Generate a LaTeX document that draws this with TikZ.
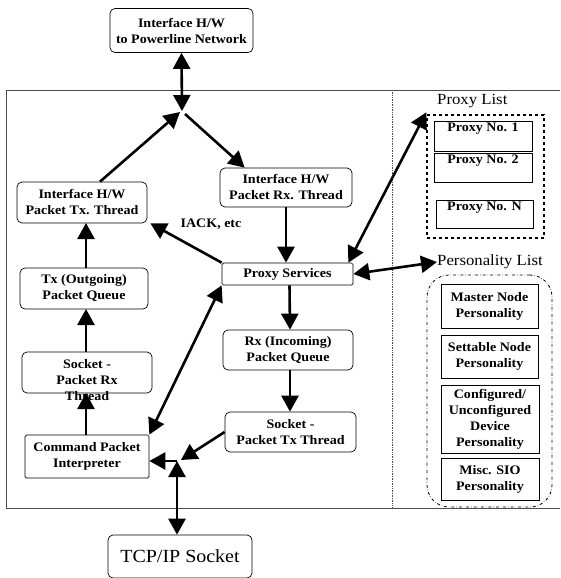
\documentclass[tikz,border=0pt]{standalone}
\usepackage{fontspec}
\setmainfont{Liberation Serif}[FakeStretch=1.08]
\usetikzlibrary{arrows.meta,calc}
\begin{document}
\begin{tikzpicture}[x=1pt,y=-1pt,
  boxtxt/.style={font=\bfseries\fontsize{13}{16}\selectfont, align=center},
  rbox/.style={draw, rounded corners=5pt, line width=0.7pt, inner sep=0pt, boxtxt},
  sbox/.style={draw, rounded corners=1.5pt, line width=0.7pt, inner sep=0pt, boxtxt},
  pbox/.style={draw, line width=0.7pt, inner sep=0pt, boxtxt},
  tip/.tip={Triangle[length=16pt,width=17pt]},
  arr/.style={line width=2.6pt, -tip},
  dbl/.style={line width=2.6pt, tip-tip},
  frame/.style={line width=0.7pt, draw=black!70},
  biglbl/.style={font=\fontsize{15.5}{18}\selectfont, inner sep=0pt, anchor=west}
]
\useasboundingbox (0,0) rectangle (560,578);
% frame
\draw[frame] (560,90) -- (6,90) -- (6,508) -- (560,508);
\draw[frame, densely dotted] (392,90) -- (392,508);
% junctions
\coordinate (jtop) at (182,111);
\coordinate (jbot) at (177,461);
% nodes
\node[rbox, minimum width=143pt, minimum height=44pt] (net) at (181.5,30.5) {Interface H/W\\to Powerline Network};
\node[rbox, minimum width=130pt, minimum height=41pt] (txthread) at (82,202.5) {Interface H/W\\Packet Tx. Thread};
\node[rbox, minimum width=132pt, minimum height=39pt] (rxthread) at (286,187.5) {Interface H/W\\Packet Rx. Thread};
\node[sbox, minimum width=131pt, minimum height=22pt] (proxy) at (287.5,274) {Proxy Services};
\node[rbox, minimum width=128pt, minimum height=41pt] (txq) at (84,288.5) {Tx (Outgoing)\\Packet Queue};
\node[rbox, minimum width=130pt, minimum height=41pt] (sockrx) at (87,372.5) {};
\node[boxtxt, inner sep=0pt] (sockrxtxt) at (87,380) {Socket -\\Packet Rx\\Thread};
\node[sbox, minimum width=124pt, minimum height=43pt] (cmd) at (87,456.5) {Command Packet\\Interpreter};
\node[rbox, minimum width=130pt, minimum height=40pt] (rxq) at (288,350) {Rx (Incoming)\\Packet Queue};
\node[rbox, minimum width=131pt, minimum height=40pt] (socktx) at (290.5,432) {Socket -\\Packet Tx Thread};
\node[rbox, minimum width=144pt, minimum height=43pt, font=\fontsize{18.5}{20}\selectfont] (tcp) at (180,556.5) {TCP/IP Socket};
% proxy list
\node[biglbl] (pllbl) at (437,101) {Proxy List};
\node[draw, dashed, line width=1.4pt, minimum width=117pt, minimum height=123pt, inner sep=0pt] (plbox) at (485.5,176.5) {};
\node[pbox, minimum width=98pt, minimum height=30pt] (p1) at (483,136) {};
\node[boxtxt, anchor=north, inner sep=2pt] (p1t) at (p1.north) {Proxy No. 1};
\node[pbox, minimum width=98pt, minimum height=29pt] (p2) at (483,167.5) {};
\node[boxtxt, anchor=north, inner sep=2pt] (p2t) at (p2.north) {Proxy No. 2};
\node[pbox, minimum width=97pt, minimum height=28pt] (pn) at (484.5,214) {};
\node[boxtxt, anchor=north, inner sep=2pt] (pnt) at (pn.north) {Proxy No. N};
% personality list
\node[biglbl] (perslbl) at (437,262) {Personality List};
\node[draw, dash dot, line width=0.8pt, rounded corners=22pt, minimum width=125pt, minimum height=232pt, inner sep=0pt] (persbox) at (489.5,391) {};
\node[pbox, minimum width=97pt, minimum height=44pt] (master) at (489.5,306) {Master Node\\Personality};
\node[pbox, minimum width=97pt, minimum height=43pt] (settable) at (489.5,356.5) {Settable Node\\Personality};
\node[pbox, minimum width=98pt, minimum height=68pt] (config) at (490,419) {Configured/\\Unconfigured\\Device\\Personality};
\node[pbox, minimum width=98pt, minimum height=42pt] (misc) at (490,479) {Misc. SIO\\Personality};
% connectors
\draw[dbl] (net.south) -- (jtop);
\draw[arr] ($(txthread.north)+(18,0)$) -- ($(jtop)+(-2,1)$);
\draw[arr] ($(jtop)+(3,3)$) -- ($(rxthread.north west)+(25,0)$);
\draw[arr] (rxthread.south) -- (rxthread.south |- proxy.north);
\draw[arr] (proxy.north west) -- ($(txthread.south east)+(3,0)$);
\node[boxtxt, inner sep=0pt] (iack) at (211,224) {IACK, etc};
\draw[arr] (txq.north -| 86,0) -- (86,223);
\draw[arr] (sockrx.north -| 86,0) -- (86,309);
\draw[arr] (cmd.north -| 86,0) -- (86,393);
\draw[dbl] (cmd.north east) -- (proxy.south west);
\draw[arr] ($(proxy.south)+(2,0)$) -- ($(rxq.north)+(2,0)$);
\draw[arr] ($(rxq.south)+(2,0)$) -- ($(socktx.north)+(-0.5,0)$);
\draw[arr] (socktx.west) -- ($(jbot)+(4,-1)$);
\draw[arr] (jbot) -- (jbot -| cmd.east);
\draw[dbl] (jbot) -- (tcp.north -| jbot);
\draw[dbl] ($(proxy.north east)+(-5,0)$) -- ($(plbox.north west)+(0,-2)$);
\draw[dbl] (proxy.east) -- (perslbl.west);
\end{tikzpicture}
\end{document}
